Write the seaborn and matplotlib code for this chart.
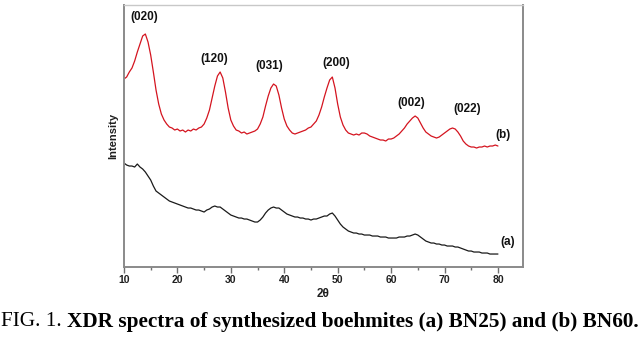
import numpy as np
import pandas as pd
import matplotlib
matplotlib.use("Agg")
import matplotlib.pyplot as plt
import seaborn as sns
from matplotlib.ticker import MultipleLocator, NullLocator

# 2-theta scan (degrees), 0.5 deg steps
two_theta = [10 + 0.5 * i for i in range(141)]

# (b) BN60 - intensity, arbitrary units
intensity_bn60 = [
    188, 190, 195, 199, 206, 215, 223, 231, 233, 225,
    212, 195, 177, 163, 153, 147, 143, 140, 139, 137,
    138, 136, 137, 135, 137, 136, 138, 137, 139, 140,
    143, 149, 157, 169, 181, 191, 195, 189, 175, 159,
    147, 141, 137, 136, 134, 135, 133, 134, 135, 136,
    138, 143, 150, 161, 171, 179, 183, 181, 172, 159,
    148, 141, 137, 134, 133, 134, 135, 136, 137, 139,
    140, 143, 146, 152, 160, 170, 179, 187, 190, 179,
    163, 150, 142, 137, 134, 133, 132, 133, 132, 134,
    134, 133, 131, 130, 129, 128, 127, 127, 126, 128,
    128, 129, 131, 133, 136, 139, 143, 146, 149, 151,
    149, 144, 139, 135, 133, 131, 130, 129, 130, 132,
    134, 136, 138, 139, 138, 135, 131, 126, 123, 121,
    120, 120, 119, 120, 120, 121, 120, 121, 121, 122,
    121,
]

# (a) BN25 - intensity, arbitrary units
intensity_bn25 = [
    104, 102, 101, 101, 100, 103, 100, 98, 95, 91,
    87, 81, 76, 74, 72, 70, 68, 66, 65, 64,
    63, 62, 61, 60, 59, 59, 58, 57, 57, 56,
    55, 57, 58, 60, 61, 60, 60, 58, 56, 54,
    52, 51, 50, 49, 49, 48, 48, 47, 46, 45,
    45, 47, 50, 54, 57, 59, 60, 59, 59, 57,
    55, 53, 52, 51, 50, 50, 49, 49, 48, 48,
    47, 48, 48, 49, 50, 51, 51, 53, 54, 51,
    47, 43, 40, 38, 36, 35, 34, 34, 33, 33,
    32, 32, 32, 31, 31, 31, 30, 30, 30, 29,
    29, 29, 29, 30, 30, 30, 31, 31, 32, 33,
    32, 30, 28, 26, 25, 24, 24, 23, 23, 22,
    22, 21, 21, 21, 20, 20, 19, 18, 17, 16,
    16, 15, 15, 15, 14, 14, 14, 13, 13, 13,
    13,
]

# Miller indices of the boehmite reflections and where they are labelled
hkl_labels = ["(020)", "(120)", "(031)", "(200)", "(002)", "(022)"]
hkl_x = [13.8, 26.9, 37.2, 49.8, 63.8, 74.2]
hkl_y = [250, 208, 201, 204, 164, 158]

x_ticks = [10, 20, 30, 40, 50, 60, 70, 80]

sns.set_theme(style="white")
plt.rcParams["font.family"] = ["Liberation Sans", "DejaVu Sans"]

df = pd.DataFrame({
    "2θ": two_theta * 2,
    "Intensity": intensity_bn25 + intensity_bn60,
    "sample": ["BN25"] * len(two_theta) + ["BN60"] * len(two_theta),
})

fig = plt.figure(figsize=(6.41, 3.45), dpi=100)
ax = fig.add_axes([0.1934, 0.226, 0.816 - 0.1934, 0.9855 - 0.226])

sns.lineplot(data=df, x="2θ", y="Intensity", hue="sample",
             palette={"BN25": "#1a1a1a", "BN60": "#d4141f"},
             linewidth=0.9, legend=False, ax=ax, estimator=None, sort=False)

ax.set_xlim(10, 84.7)
ax.set_ylim(0, 262)
ax.xaxis.set_minor_locator(MultipleLocator(5))
ax.set_xticks(x_ticks)
ax.yaxis.set_major_locator(NullLocator())
ax.tick_params(axis="x", which="major", direction="out", length=4, width=1,
               color="#707070", bottom=True, labelsize=7.5, pad=2)
ax.tick_params(axis="x", which="minor", direction="out", length=2.5, width=1,
               color="#707070", bottom=True)
for lab in ax.get_xticklabels():
    lab.set_fontweight("bold")
    lab.set_color("#202020")

for side in ["left", "bottom", "right", "top"]:
    ax.spines[side].set_visible(True)
    ax.spines[side].set_color("#8a8a8a")
    ax.spines[side].set_linewidth(1.4)
ax.spines["top"].set_color("#c8c8c8")
ax.spines["top"].set_linewidth(1.0)

ax.set_xlabel("2θ", fontsize=8.5, fontweight="bold", color="#202020", labelpad=2)
ax.set_ylabel("Intensity", fontsize=8, fontweight="bold", color="#202020", labelpad=4)

for lab, x, y in zip(hkl_labels, hkl_x, hkl_y):
    ax.text(x, y, lab, fontsize=8.5, fontweight="bold", ha="center", va="center",
            color="#111111")
ax.text(80.9, 132, "(b)", fontsize=8.5, fontweight="bold", ha="center", va="center",
        color="#111111")
ax.text(81.8, 25, "(a)", fontsize=8.5, fontweight="bold", ha="center", va="center",
        color="#111111")

# Figure caption
cap_y = 1 - 322 / 345
t1 = fig.text(0.002, cap_y, "FIG. 1. ", fontsize=15.3, family="Liberation Serif",
              ha="left", va="center", color="black")
fig.canvas.draw()
bb = t1.get_window_extent()
fig.text(bb.x1 / fig.bbox.width, cap_y,
         "XDR spectra of synthesized boehmites (a) BN25) and (b) BN60.",
         fontsize=15.3, family="Liberation Serif", fontweight="bold",
         ha="left", va="center", color="black")

fig.savefig("out.png", dpi=100)
